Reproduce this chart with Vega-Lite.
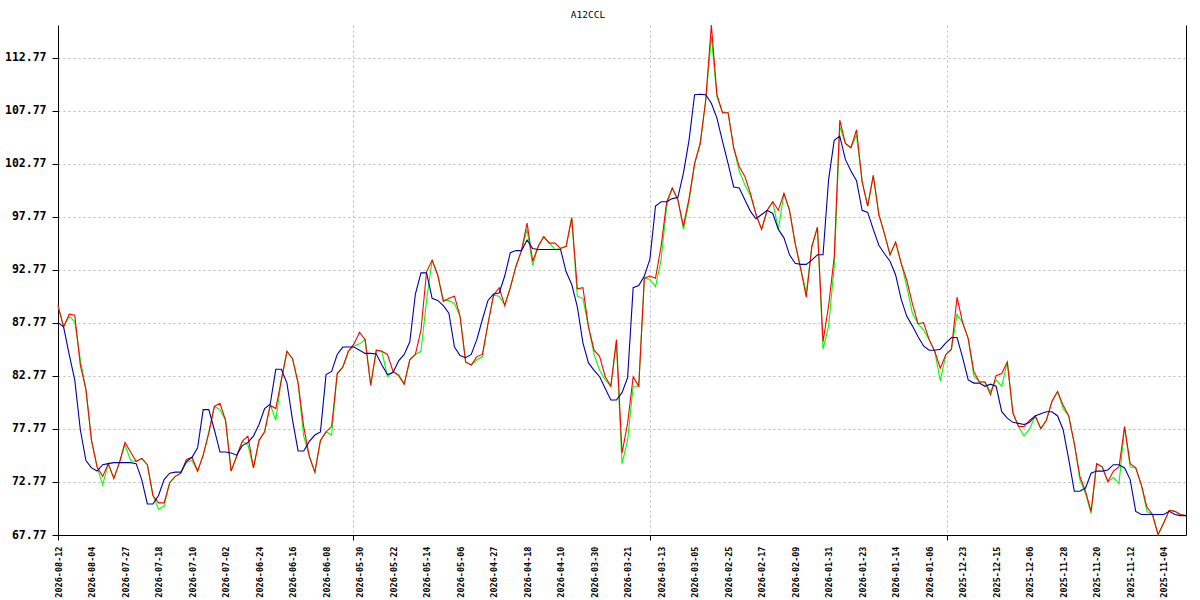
{
  "$schema": "https://vega.github.io/schema/vega-lite/v6.json",
  "width": 1128,
  "height": 510,
  "autosize": {"type": "none"},
  "padding": {"left": 58, "top": 25, "right": 14, "bottom": 65},
  "background": "white",
  "title": {
    "text": "A12CCL",
    "font": "DejaVu Sans Mono",
    "fontSize": 9.5,
    "fontWeight": "normal",
    "color": "black",
    "anchor": "middle",
    "dx": -34,
    "dy": 13,
    "offset": 8,
    "baseline": "alphabetic"
  },
  "config": {
    "view": {"stroke": null},
    "line": {"strokeWidth": 1.1}
  },
  "data": {
    "values": [
      {"i": 0, "r": 89.4, "g": 89.4, "b": 87.8},
      {"i": 1, "r": 87.4, "g": 87.4, "b": 87.4},
      {"i": 2, "r": 88.6, "g": 88.4, "b": 84.8},
      {"i": 3, "r": 88.5, "g": 87.9, "b": 82.4},
      {"i": 4, "r": 83.8, "g": 84.3, "b": 77.7},
      {"i": 5, "r": 81.5, "g": 81.5, "b": 74.8},
      {"i": 6, "r": 76.7, "g": 76.7, "b": 74.1},
      {"i": 7, "r": 74.2, "g": 74.2, "b": 73.8},
      {"i": 8, "r": 73.3, "g": 72.5, "b": 74.4},
      {"i": 9, "r": 74.5, "g": 74.5, "b": 74.5},
      {"i": 10, "r": 73.1, "g": 73.1, "b": 74.6},
      {"i": 11, "r": 74.6, "g": 74.6, "b": 74.6},
      {"i": 12, "r": 76.5, "g": 76.3, "b": 74.6},
      {"i": 13, "r": 75.6, "g": 74.8, "b": 74.6},
      {"i": 14, "r": 74.7, "g": 74.7, "b": 74.5},
      {"i": 15, "r": 75.0, "g": 75.0, "b": 73.0},
      {"i": 16, "r": 74.4, "g": 74.4, "b": 70.7},
      {"i": 17, "r": 71.5, "g": 71.5, "b": 70.7},
      {"i": 18, "r": 70.8, "g": 70.2, "b": 71.5},
      {"i": 19, "r": 70.8, "g": 70.5, "b": 73.0},
      {"i": 20, "r": 72.7, "g": 72.7, "b": 73.6},
      {"i": 21, "r": 73.3, "g": 73.3, "b": 73.7},
      {"i": 22, "r": 73.6, "g": 73.6, "b": 73.7},
      {"i": 23, "r": 74.9, "g": 74.6, "b": 74.7},
      {"i": 24, "r": 75.1, "g": 74.8, "b": 75.1},
      {"i": 25, "r": 73.8, "g": 73.8, "b": 76.0},
      {"i": 26, "r": 75.3, "g": 75.3, "b": 79.6},
      {"i": 27, "r": 77.4, "g": 77.4, "b": 79.6},
      {"i": 28, "r": 79.9, "g": 79.9, "b": 77.7},
      {"i": 29, "r": 80.2, "g": 79.6, "b": 75.6},
      {"i": 30, "r": 78.6, "g": 78.6, "b": 75.6},
      {"i": 31, "r": 73.8, "g": 73.8, "b": 75.5},
      {"i": 32, "r": 75.2, "g": 75.2, "b": 75.3},
      {"i": 33, "r": 76.6, "g": 76.6, "b": 76.2},
      {"i": 34, "r": 77.1, "g": 76.3, "b": 76.5},
      {"i": 35, "r": 74.1, "g": 74.1, "b": 77.1},
      {"i": 36, "r": 76.7, "g": 76.7, "b": 78.2},
      {"i": 37, "r": 77.5, "g": 77.5, "b": 79.7},
      {"i": 38, "r": 80.0, "g": 80.1, "b": 80.1},
      {"i": 39, "r": 79.7, "g": 78.6, "b": 83.4},
      {"i": 40, "r": 82.4, "g": 82.4, "b": 83.4},
      {"i": 41, "r": 85.1, "g": 85.1, "b": 82.1},
      {"i": 42, "r": 84.4, "g": 84.4, "b": 78.6},
      {"i": 43, "r": 82.1, "g": 82.1, "b": 75.7},
      {"i": 44, "r": 78.0, "g": 77.1, "b": 75.7},
      {"i": 45, "r": 75.2, "g": 75.2, "b": 76.6},
      {"i": 46, "r": 73.7, "g": 73.7, "b": 77.2},
      {"i": 47, "r": 76.7, "g": 76.7, "b": 77.5},
      {"i": 48, "r": 77.5, "g": 77.5, "b": 82.9},
      {"i": 49, "r": 78.0, "g": 77.2, "b": 83.2},
      {"i": 50, "r": 83.0, "g": 83.0, "b": 84.8},
      {"i": 51, "r": 83.6, "g": 83.6, "b": 85.5},
      {"i": 52, "r": 85.1, "g": 85.1, "b": 85.5},
      {"i": 53, "r": 85.8, "g": 85.6, "b": 85.5},
      {"i": 54, "r": 86.9, "g": 85.8, "b": 85.2},
      {"i": 55, "r": 86.2, "g": 86.2, "b": 84.9},
      {"i": 56, "r": 81.9, "g": 81.9, "b": 84.9},
      {"i": 57, "r": 85.2, "g": 85.2, "b": 84.85},
      {"i": 58, "r": 85.1, "g": 85.1, "b": 83.8},
      {"i": 59, "r": 84.8, "g": 82.7, "b": 82.9},
      {"i": 60, "r": 83.2, "g": 83.2, "b": 83.1},
      {"i": 61, "r": 82.8, "g": 82.9, "b": 84.2},
      {"i": 62, "r": 82.0, "g": 82.0, "b": 84.8},
      {"i": 63, "r": 84.3, "g": 84.3, "b": 86.0},
      {"i": 64, "r": 84.8, "g": 84.8, "b": 90.5},
      {"i": 65, "r": 87.1, "g": 85.1, "b": 92.5},
      {"i": 66, "r": 92.6, "g": 89.9, "b": 92.5},
      {"i": 67, "r": 93.7, "g": 93.7, "b": 90.1},
      {"i": 68, "r": 92.3, "g": 92.3, "b": 89.9},
      {"i": 69, "r": 89.8, "g": 89.9, "b": 89.4},
      {"i": 70, "r": 90.1, "g": 89.9, "b": 88.7},
      {"i": 71, "r": 90.3, "g": 89.6, "b": 85.5},
      {"i": 72, "r": 88.4, "g": 88.4, "b": 84.7},
      {"i": 73, "r": 84.1, "g": 84.1, "b": 84.5},
      {"i": 74, "r": 83.8, "g": 83.8, "b": 84.8},
      {"i": 75, "r": 84.6, "g": 84.3, "b": 86.2},
      {"i": 76, "r": 84.8, "g": 84.6, "b": 88.1},
      {"i": 77, "r": 87.7, "g": 87.7, "b": 89.9},
      {"i": 78, "r": 90.4, "g": 90.4, "b": 90.5},
      {"i": 79, "r": 91.1, "g": 90.3, "b": 90.6},
      {"i": 80, "r": 89.4, "g": 89.5, "b": 92.2},
      {"i": 81, "r": 91.1, "g": 91.1, "b": 94.4},
      {"i": 82, "r": 93.1, "g": 93.1, "b": 94.6},
      {"i": 83, "r": 94.6, "g": 94.6, "b": 94.6},
      {"i": 84, "r": 97.2, "g": 96.6, "b": 95.6},
      {"i": 85, "r": 93.6, "g": 93.2, "b": 94.8},
      {"i": 86, "r": 95.0, "g": 95.0, "b": 94.7},
      {"i": 87, "r": 95.9, "g": 95.9, "b": 94.7},
      {"i": 88, "r": 95.3, "g": 95.3, "b": 94.7},
      {"i": 89, "r": 95.3, "g": 94.7, "b": 94.7},
      {"i": 90, "r": 94.8, "g": 94.8, "b": 94.7},
      {"i": 91, "r": 95.0, "g": 95.0, "b": 92.6},
      {"i": 92, "r": 97.7, "g": 97.7, "b": 91.4},
      {"i": 93, "r": 91.0, "g": 90.3, "b": 89.3},
      {"i": 94, "r": 91.1, "g": 90.1, "b": 85.9},
      {"i": 95, "r": 87.4, "g": 87.4, "b": 84.0},
      {"i": 96, "r": 85.2, "g": 84.8, "b": 83.3},
      {"i": 97, "r": 84.6, "g": 83.3, "b": 82.7},
      {"i": 98, "r": 82.7, "g": 82.4, "b": 81.6},
      {"i": 99, "r": 81.8, "g": 81.8, "b": 80.5},
      {"i": 100, "r": 86.2, "g": 85.9, "b": 80.5},
      {"i": 101, "r": 75.5, "g": 74.5, "b": 81.2},
      {"i": 102, "r": 78.3, "g": 76.7, "b": 82.6},
      {"i": 103, "r": 82.7, "g": 81.8, "b": 91.1},
      {"i": 104, "r": 81.8, "g": 81.8, "b": 91.3},
      {"i": 105, "r": 92.0, "g": 92.0, "b": 92.2},
      {"i": 106, "r": 92.2, "g": 91.9, "b": 93.8},
      {"i": 107, "r": 92.0, "g": 91.2, "b": 98.8},
      {"i": 108, "r": 95.0, "g": 93.7, "b": 99.2},
      {"i": 109, "r": 99.2, "g": 98.8, "b": 99.2},
      {"i": 110, "r": 100.5, "g": 100.5, "b": 99.5},
      {"i": 111, "r": 99.4, "g": 99.4, "b": 99.6},
      {"i": 112, "r": 96.9, "g": 96.6, "b": 101.9},
      {"i": 113, "r": 99.5, "g": 99.2, "b": 105.0},
      {"i": 114, "r": 102.8, "g": 102.8, "b": 109.3},
      {"i": 115, "r": 104.7, "g": 104.7, "b": 109.35},
      {"i": 116, "r": 108.8, "g": 108.8, "b": 109.3},
      {"i": 117, "r": 115.88, "g": 114.8, "b": 108.5},
      {"i": 118, "r": 109.3, "g": 109.1, "b": 107.1},
      {"i": 119, "r": 107.6, "g": 107.6, "b": 104.9},
      {"i": 120, "r": 107.6, "g": 107.6, "b": 102.8},
      {"i": 121, "r": 104.3, "g": 104.3, "b": 100.6},
      {"i": 122, "r": 102.5, "g": 102.1, "b": 100.5},
      {"i": 123, "r": 101.6, "g": 100.8, "b": 99.4},
      {"i": 124, "r": 100.0, "g": 99.8, "b": 98.3},
      {"i": 125, "r": 98.0, "g": 98.0, "b": 97.6},
      {"i": 126, "r": 96.6, "g": 96.6, "b": 98.0},
      {"i": 127, "r": 98.4, "g": 98.4, "b": 98.4},
      {"i": 128, "r": 99.2, "g": 99.2, "b": 98.1},
      {"i": 129, "r": 98.4, "g": 96.6, "b": 96.6},
      {"i": 130, "r": 100.0, "g": 100.0, "b": 95.8},
      {"i": 131, "r": 98.4, "g": 98.4, "b": 94.2},
      {"i": 132, "r": 95.3, "g": 95.3, "b": 93.4},
      {"i": 133, "r": 92.9, "g": 92.9, "b": 93.3},
      {"i": 134, "r": 90.2, "g": 90.6, "b": 93.3},
      {"i": 135, "r": 95.0, "g": 95.0, "b": 93.7},
      {"i": 136, "r": 96.8, "g": 96.8, "b": 94.2},
      {"i": 137, "r": 86.0, "g": 85.3, "b": 94.2},
      {"i": 138, "r": 89.4, "g": 87.5, "b": 101.3},
      {"i": 139, "r": 94.0, "g": 93.1, "b": 105.0},
      {"i": 140, "r": 106.9, "g": 106.3, "b": 105.4},
      {"i": 141, "r": 104.7, "g": 104.7, "b": 103.2},
      {"i": 142, "r": 104.3, "g": 104.3, "b": 102.1},
      {"i": 143, "r": 106.0, "g": 105.5, "b": 101.2},
      {"i": 144, "r": 101.1, "g": 101.1, "b": 98.4},
      {"i": 145, "r": 98.8, "g": 98.8, "b": 98.2},
      {"i": 146, "r": 101.7, "g": 101.7, "b": 96.6},
      {"i": 147, "r": 98.0, "g": 98.0, "b": 95.1},
      {"i": 148, "r": 96.2, "g": 96.2, "b": 94.3},
      {"i": 149, "r": 94.2, "g": 94.2, "b": 93.6},
      {"i": 150, "r": 95.4, "g": 95.4, "b": 92.3},
      {"i": 151, "r": 93.4, "g": 93.4, "b": 90.0},
      {"i": 152, "r": 91.8, "g": 91.2, "b": 88.4},
      {"i": 153, "r": 89.6, "g": 88.7, "b": 87.5},
      {"i": 154, "r": 87.7, "g": 87.7, "b": 86.5},
      {"i": 155, "r": 87.8, "g": 87.1, "b": 85.6},
      {"i": 156, "r": 86.2, "g": 86.2, "b": 85.2},
      {"i": 157, "r": 85.1, "g": 85.1, "b": 85.2},
      {"i": 158, "r": 83.5, "g": 82.3, "b": 85.3},
      {"i": 159, "r": 84.8, "g": 84.8, "b": 85.9},
      {"i": 160, "r": 85.3, "g": 85.3, "b": 86.4},
      {"i": 161, "r": 90.2, "g": 88.6, "b": 86.4},
      {"i": 162, "r": 87.8, "g": 87.8, "b": 84.5},
      {"i": 163, "r": 86.3, "g": 86.3, "b": 82.4},
      {"i": 164, "r": 83.2, "g": 82.8, "b": 82.1},
      {"i": 165, "r": 82.2, "g": 82.2, "b": 82.1},
      {"i": 166, "r": 82.2, "g": 82.2, "b": 81.8},
      {"i": 167, "r": 81.0, "g": 81.3, "b": 82.0},
      {"i": 168, "r": 82.8, "g": 82.4, "b": 81.8},
      {"i": 169, "r": 83.0, "g": 81.8, "b": 79.4},
      {"i": 170, "r": 84.1, "g": 84.1, "b": 78.8},
      {"i": 171, "r": 79.3, "g": 79.3, "b": 78.4},
      {"i": 172, "r": 78.0, "g": 78.0, "b": 78.3},
      {"i": 173, "r": 78.0, "g": 77.1, "b": 78.2},
      {"i": 174, "r": 78.6, "g": 77.8, "b": 78.4},
      {"i": 175, "r": 79.0, "g": 79.0, "b": 79.0},
      {"i": 176, "r": 77.8, "g": 77.8, "b": 79.2},
      {"i": 177, "r": 78.6, "g": 78.6, "b": 79.4},
      {"i": 178, "r": 80.4, "g": 80.4, "b": 79.4},
      {"i": 179, "r": 81.3, "g": 81.3, "b": 79.0},
      {"i": 180, "r": 80.0, "g": 79.7, "b": 77.7},
      {"i": 181, "r": 79.0, "g": 79.0, "b": 74.9},
      {"i": 182, "r": 76.4, "g": 76.4, "b": 71.9},
      {"i": 183, "r": 73.3, "g": 73.0, "b": 71.9},
      {"i": 184, "r": 71.9, "g": 71.7, "b": 72.2},
      {"i": 185, "r": 70.0, "g": 69.8, "b": 73.6},
      {"i": 186, "r": 74.5, "g": 74.5, "b": 73.8},
      {"i": 187, "r": 74.2, "g": 74.2, "b": 73.8},
      {"i": 188, "r": 72.8, "g": 72.8, "b": 73.9},
      {"i": 189, "r": 73.8, "g": 73.2, "b": 74.4},
      {"i": 190, "r": 74.2, "g": 72.6, "b": 74.4},
      {"i": 191, "r": 78.0, "g": 78.0, "b": 74.1},
      {"i": 192, "r": 74.5, "g": 74.2, "b": 73.0},
      {"i": 193, "r": 74.1, "g": 74.1, "b": 70.0},
      {"i": 194, "r": 72.5, "g": 72.5, "b": 69.7},
      {"i": 195, "r": 70.4, "g": 70.0, "b": 69.7},
      {"i": 196, "r": 69.7, "g": 69.7, "b": 69.7},
      {"i": 197, "r": 67.8, "g": 67.8, "b": 69.7},
      {"i": 198, "r": 68.9, "g": 68.9, "b": 69.7},
      {"i": 199, "r": 70.1, "g": 70.1, "b": 70.0},
      {"i": 200, "r": 70.0, "g": 70.0, "b": 69.7},
      {"i": 201, "r": 69.7, "g": 69.7, "b": 69.6},
      {"i": 202, "r": 69.6, "g": 69.6, "b": 69.6}
    ]
  },
  "encoding": {
    "x": {
      "field": "i",
      "type": "quantitative",
      "title": null,
      "scale": {"domain": [0, 202], "nice": false, "zero": false},
      "axis": {
        "values": [0, 6, 12, 18, 24, 30, 36, 42, 48, 54, 60, 66, 72, 78, 84, 90, 96, 102, 108, 114, 120, 126, 132, 138, 144, 150, 156, 162, 168, 174, 180, 186, 192, 198, 52.8, 106, 159.2],
        "labelExpr": "datum.value % 6 == 0 ? ['2026-08-12','2026-08-04','2026-07-27','2026-07-18','2026-07-10','2026-07-02','2026-06-24','2026-06-16','2026-06-08','2026-05-30','2026-05-22','2026-05-14','2026-05-06','2026-04-27','2026-04-18','2026-04-10','2026-03-30','2026-03-21','2026-03-13','2026-03-05','2026-02-25','2026-02-17','2026-02-09','2026-01-31','2026-01-23','2026-01-14','2026-01-06','2025-12-23','2025-12-15','2025-12-06','2025-11-28','2025-11-20','2025-11-12','2025-11-04'][datum.value / 6] : ''",
        "labelAngle": 270,
        "labelAlign": "right",
        "labelBaseline": "middle",
        "labelFont": "DejaVu Sans Mono",
        "labelFontSize": 8.5,
        "labelFontWeight": "bold",
        "labelColor": "black",
        "labelPadding": 6,
        "labelOverlap": false,
        "labelFlush": false,
        "labelBound": false,
        "tickSize": 5,
        "tickColor": "black",
        "tickOpacity": {"condition": {"test": "datum.value == 0 || datum.value == 52.8 || datum.value == 106 || datum.value == 159.2", "value": 1}, "value": 0},
        "grid": true,
        "gridColor": "#bbbbbb",
        "gridDash": [2, 3],
        "gridOpacity": {"condition": {"test": "datum.value == 52.8 || datum.value == 106 || datum.value == 159.2", "value": 1}, "value": 0},
        "domainColor": "black"
      }
    }
  },
  "layer": [
    {
      "mark": {"type": "line", "color": "#00ff00"},
      "encoding": {
        "y": {
          "field": "g",
          "type": "quantitative",
          "title": null,
          "scale": {"domain": [67.77, 115.88], "nice": false, "zero": false},
          "axis": {
            "values": [67.77, 72.77, 77.77, 82.77, 87.77, 92.77, 97.77, 102.77, 107.77, 112.77],
            "format": ".2f",
            "labelFont": "DejaVu Sans Mono",
            "labelFontSize": 11.5,
            "labelFontWeight": "bold",
            "labelColor": "black",
            "labelPadding": 6,
            "labelFlush": false,
            "labelOverlap": false,
            "tickSize": 6,
            "tickColor": "black",
            "domainColor": "black",
            "grid": true,
            "gridColor": "#bbbbbb",
            "gridDash": [2, 3]
          }
        }
      }
    },
    {
      "mark": {"type": "line", "color": "#ff0000"},
      "encoding": {
        "y": {
          "field": "r",
          "type": "quantitative",
          "title": null,
          "scale": {"domain": [67.77, 115.88], "nice": false, "zero": false},
          "axis": null
        }
      }
    },
    {
      "mark": {"type": "line", "color": "#0000aa"},
      "encoding": {
        "y": {
          "field": "b",
          "type": "quantitative",
          "title": null,
          "scale": {"domain": [67.77, 115.88], "nice": false, "zero": false},
          "axis": {"orient": "right", "labels": false, "ticks": false, "grid": false, "domainColor": "black"}
        }
      }
    }
  ],
  "resolve": {"axis": {"y": "independent"}}
}
